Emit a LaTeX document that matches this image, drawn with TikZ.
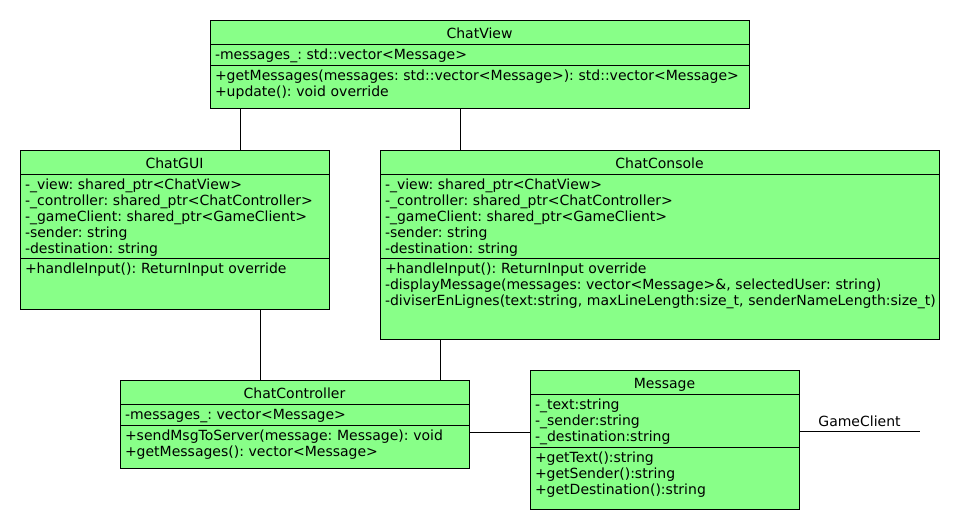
\documentclass[tikz,border=0pt]{standalone}
\usepackage{fontspec}
\setmainfont{DejaVu Sans}
\frenchspacing
\definecolor{classgreen}{RGB}{136,255,136}

\tikzset{
  uml/.style={draw, fill=classgreen, line width=1pt, anchor=north west, outer sep=0pt,
    inner xsep=5pt, inner ysep=0pt, font=\fontsize{14}{16}\selectfont},
  umltitle/.style={uml, align=center, text height=18pt, text depth=6pt},
  umlpart/.style={uml, align=left, text height=15pt},
  assoc/.style={draw, line width=1pt},
}

\begin{document}
\begin{tikzpicture}[x=1pt, y=-1pt]
  \useasboundingbox (0,0) rectangle (960,530);

  \node[umltitle, text width=529pt] (viewtitle) at (210,20) {ChatView};
  \node[umlpart, text width=529pt, text depth=6pt] (viewattr) at (viewtitle.south west) {-messages\_: std::vector<Message>};
  \node[umlpart, text width=529pt, text depth=28pt] (viewmeth) at (viewattr.south west) {+getMessages(messages: std::vector<Message>): std::vector<Message>\\+update(): void override};

  \node[umltitle, text width=299pt] (guititle) at (20,150) {ChatGUI};
  \node[umlpart, text width=299pt, text depth=69pt] (guiattr) at (guititle.south west) {-\_view: shared\_ptr<ChatView>\\-\_controller: shared\_ptr<ChatController>\\-\_gameClient: shared\_ptr<GameClient>\\-sender: string\\-destination: string};
  \node[umlpart, text width=299pt, text depth=36pt] (guimeth) at (guiattr.south west) {+handleInput(): ReturnInput override};

  \node[umltitle, text width=549pt] (constitle) at (380,150) {ChatConsole};
  \node[umlpart, text width=549pt, text depth=69pt] (consattr) at (constitle.south west) {-\_view: shared\_ptr<ChatView>\\-\_controller: shared\_ptr<ChatController>\\-\_gameClient: shared\_ptr<GameClient>\\-sender: string\\-destination: string};
  \node[umlpart, text width=549pt, text depth=66pt] (consmeth) at (consattr.south west) {+handleInput(): ReturnInput override\\-displayMessage(messages: vector<Message>\&, selectedUser: string)\\\mbox{-diviserEnLignes(text:string, maxLineLength:size\_t, senderNameLength:size\_t)}};

  \node[umltitle, text width=339pt] (ctrltitle) at (120,380) {ChatController};
  \node[umlpart, text width=339pt, text depth=6pt] (ctrlattr) at (ctrltitle.south west) {-messages\_: vector<Message>};
  \node[umlpart, text width=339pt, text depth=28pt] (ctrlmeth) at (ctrlattr.south west) {+sendMsgToServer(message: Message): void\\+getMessages(): vector<Message>};

  \node[umltitle, text width=259pt] (msgtitle) at (530,370) {Message};
  \node[umlpart, text width=259pt, text depth=38pt] (msgattr) at (msgtitle.south west) {-\_text:string\\-\_sender:string\\-\_destination:string};
  \node[umlpart, text width=259pt, text depth=47pt] (msgmeth) at (msgattr.south west) {+getText():string\\+getSender():string\\+getDestination():string};

  \coordinate (gameclient) at (920,431);

  \path[assoc] (viewmeth.south -| 240,0) edge (guititle.north -| 240,0);
  \path[assoc] (viewmeth.south -| 460,0) edge (constitle.north -| 460,0);
  \path[assoc] (guimeth.south -| 260,0) edge (ctrltitle.north -| 260,0);
  \path[assoc] (consmeth.south -| 440,0) edge (ctrltitle.north -| 440,0);
  \path[assoc] (ctrlmeth.east |- 0,432) edge (msgattr.west |- 0,432);
  \draw[assoc] (msgattr.east |- gameclient) -- node[above, font=\fontsize{14}{16}\selectfont] {GameClient} (gameclient);
\end{tikzpicture}
\end{document}
